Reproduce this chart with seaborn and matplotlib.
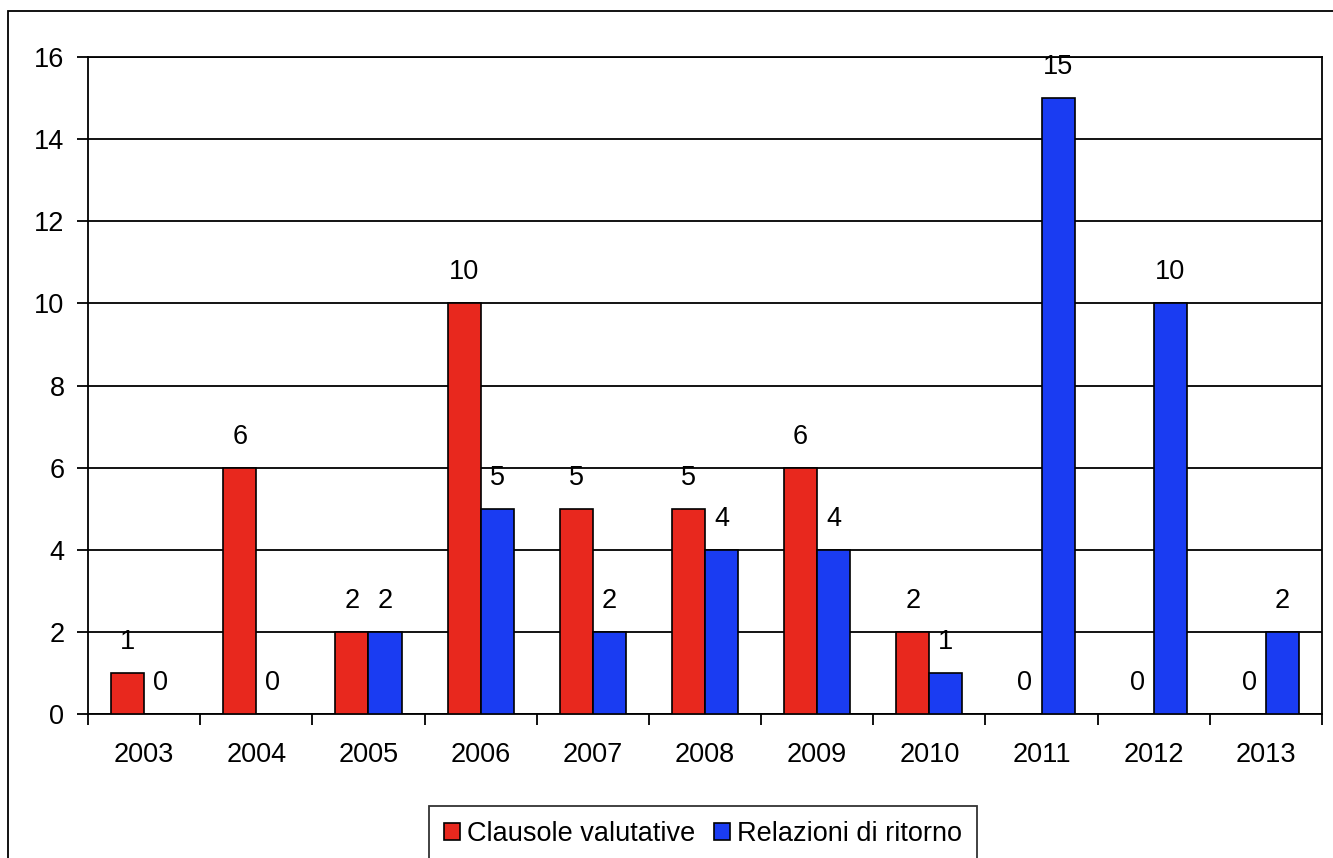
import matplotlib
matplotlib.use("Agg")
import matplotlib.pyplot as plt
import seaborn as sns
import pandas as pd
from matplotlib.patches import Rectangle, Patch

years = ["2003", "2004", "2005", "2006", "2007", "2008", "2009", "2010", "2011", "2012", "2013"]
clausole = [1, 6, 2, 10, 5, 5, 6, 2, 0, 0, 0]
relazioni = [0, 0, 2, 5, 2, 4, 4, 1, 15, 10, 2]
series = ["Clausole valutative", "Relazioni di ritorno"]
colors = ["#e8281e", "#1a3cf2"]
yticks = [0, 2, 4, 6, 8, 10, 12, 14, 16]

df = pd.DataFrame({
    "Anno": years * 2,
    "Valore": clausole + relazioni,
    "Serie": [series[0]] * len(years) + [series[1]] * len(years),
})

sns.set_theme(style="white")
plt.rcParams["font.family"] = ["Liberation Sans", "DejaVu Sans"]
FS = 19.5

fig = plt.figure(figsize=(13.33, 8.58), dpi=100)
ax = fig.add_axes([88 / 1333, 1 - 714 / 858, (1322 - 88) / 1333, (714 - 57) / 858])

sns.barplot(data=df, x="Anno", y="Valore", hue="Serie", palette=colors,
            width=0.59, ax=ax, edgecolor="black", linewidth=1.2,
            saturation=1, legend=False, zorder=3)

for cont in ax.containers:
    ax.bar_label(cont, labels=[f"{int(v)}" for v in cont.datavalues],
                 padding=13, fontsize=FS, color="black")

ax.set_ylim(0, 16)
ax.set_xlim(-0.5, len(years) - 0.5)
ax.set_yticks(yticks)
ax.yaxis.grid(True, color="black", linewidth=1.3, zorder=0)
ax.set_axisbelow(True)
ax.set_xlabel("")
ax.set_ylabel("")
ax.tick_params(axis="y", which="major", length=8, width=1.3, color="black",
               labelsize=FS, pad=9, direction="out", left=True, labelcolor="black")
ax.set_xticks(range(len(years)))
ax.set_xticklabels(years)
ax.set_xticks([i - 0.5 for i in range(len(years) + 1)], minor=True)
ax.tick_params(axis="x", which="major", length=0, labelsize=FS, pad=20, labelcolor="black")
ax.tick_params(axis="x", which="minor", length=8, width=1.3, color="black",
               direction="out", bottom=True)
for s in ax.spines.values():
    s.set_visible(True)
    s.set_color("black")
    s.set_linewidth(1.3)

handles = [Patch(facecolor=c, edgecolor="black", linewidth=1.2) for c in colors]
leg = fig.legend(handles, series, loc="upper center",
                 bbox_to_anchor=(703 / 1333, 1 - 806 / 858), ncol=2,
                 fontsize=FS, frameon=True, fancybox=False, handlelength=0.6,
                 handleheight=0.6, handletextpad=0.25, columnspacing=0.7,
                 borderpad=0.55, borderaxespad=0)
leg.get_frame().set_edgecolor("black")
leg.get_frame().set_linewidth(1.3)
for t in leg.get_texts():
    t.set_color("black")

fig.patches.append(Rectangle((8 / 1333, -0.1), 1.2, 1.1 - 11 / 858,
                             transform=fig.transFigure, fill=False,
                             edgecolor="black", linewidth=1.3))

fig.savefig("out.png", dpi=100)
